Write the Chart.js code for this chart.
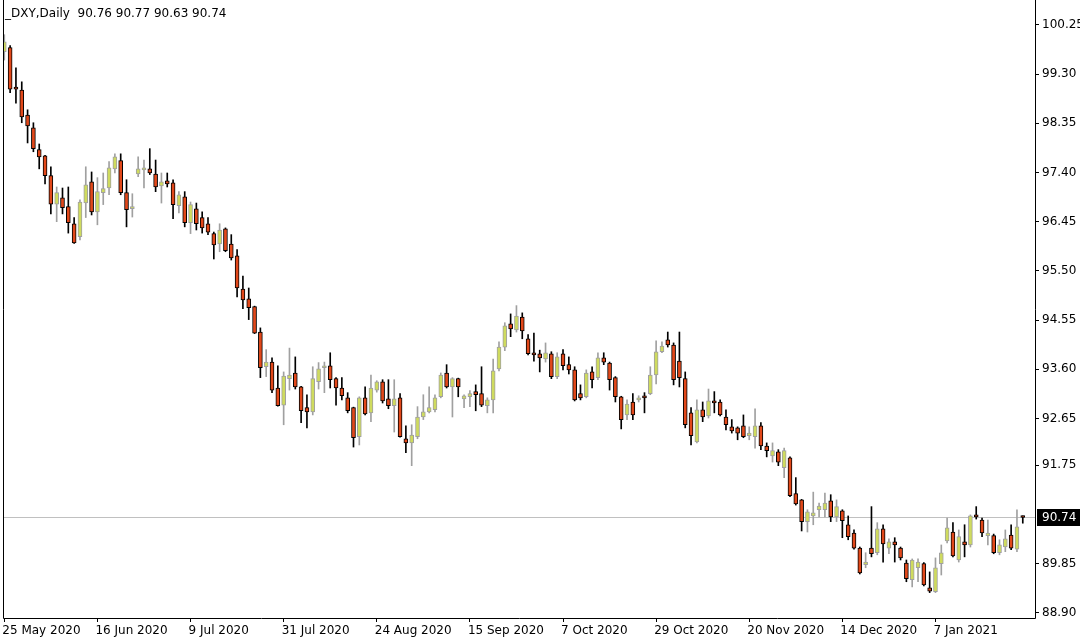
<!DOCTYPE html>
<html>
<head>
<meta charset="utf-8">
<script src="https://cdn.jsdelivr.net/npm/chart.js@4.4.0/dist/chart.umd.min.js"></script>
<style>
  html, body { margin: 0; padding: 0; background: #fff; }
  canvas { display: block; }
</style>
</head>
<body>
<canvas id="myChart" width="1080" height="642"></canvas>
<script>
const headerText = '_DXY,Daily  90.76 90.77 90.63 90.74';

const opens = [
  99.73, 99.81, 99.04, 98.99, 98.51, 98.26, 97.84, 97.72, 97.34, 96.79,
  96.91, 96.74, 96.41, 96.16, 96.81, 97.22, 96.64, 97.01, 97.10, 97.47,
  97.63, 97.01, 96.70, 97.37, 97.45, 97.47, 97.37, 97.14, 97.24, 97.20,
  96.76, 96.93, 96.43, 96.70, 96.53, 96.41, 96.22, 96.02, 96.31, 96.02,
  95.79, 95.15, 94.96, 94.81, 94.32, 93.65, 93.74, 93.24, 92.91, 93.42,
  93.53, 93.26, 92.86, 92.78, 93.36, 93.63, 93.67, 93.42, 93.24, 93.05,
  92.86, 92.30, 93.05, 92.76, 93.20, 93.36, 93.03, 92.90, 93.05, 92.26,
  92.18, 92.30, 92.68, 92.78, 92.82, 93.07, 93.53, 93.26, 93.42, 93.03,
  93.07, 93.17, 93.13, 92.90, 93.01, 93.61, 94.03, 94.48, 94.36, 94.61,
  94.19, 93.92, 93.90, 93.80, 93.90, 93.46, 93.90, 93.69, 93.59, 93.13,
  93.07, 93.55, 93.44, 93.82, 93.72, 93.44, 93.07, 92.72, 92.97, 93.01,
  93.07, 93.13, 93.49, 93.94, 94.17, 94.07, 93.76, 93.42, 92.76, 92.20,
  92.82, 92.70, 92.99, 92.97, 92.68, 92.49, 92.47, 92.51, 92.32, 92.30,
  92.51, 92.12, 91.93, 92.01, 91.70, 91.89, 91.20, 91.08, 90.66, 90.77,
  90.89, 90.89, 91.06, 90.75, 90.87, 90.60, 90.44, 90.15, 89.83, 90.15,
  90.06, 90.52, 90.15, 90.27, 90.15, 89.86, 89.54, 89.77, 89.85, 89.38,
  89.31, 89.85, 90.29, 90.46, 89.92, 90.27, 90.21, 90.79, 90.69, 90.39,
  90.39, 90.06, 90.17, 90.40, 90.13, 90.76
];
const highs = [
  100.06, 99.85, 99.42, 99.15, 98.61, 98.36, 97.95, 97.73, 97.51, 97.12,
  97.10, 97.12, 96.53, 96.87, 97.51, 97.41, 97.30, 97.39, 97.61, 97.76,
  97.76, 97.26, 96.99, 97.70, 97.64, 97.86, 97.64, 97.39, 97.39, 97.26,
  97.03, 97.03, 96.83, 96.81, 96.64, 96.53, 96.25, 96.41, 96.33, 96.20,
  95.91, 95.40, 95.17, 94.82, 94.40, 93.98, 93.82, 93.67, 93.55, 94.01,
  93.84, 93.27, 93.11, 93.65, 93.73, 93.74, 93.92, 93.44, 93.44, 93.15,
  92.87, 93.07, 93.26, 93.49, 93.38, 93.40, 93.40, 93.40, 93.13, 92.51,
  92.53, 92.88, 93.11, 93.26, 93.11, 93.53, 93.69, 93.44, 93.43, 93.11,
  93.19, 93.30, 93.65, 93.05, 93.80, 94.13, 94.50, 94.67, 94.83, 94.69,
  94.27, 94.30, 93.97, 94.11, 93.94, 93.92, 93.98, 93.84, 93.65, 93.30,
  93.59, 93.65, 93.92, 93.92, 93.74, 93.46, 93.08, 93.01, 93.13, 93.09,
  93.15, 93.65, 94.15, 94.13, 94.32, 94.11, 94.32, 93.55, 92.86, 93.01,
  92.97, 93.22, 93.17, 93.01, 92.82, 92.63, 92.49, 92.72, 92.49, 92.84,
  92.57, 92.18, 92.18, 92.05, 92.08, 91.91, 91.51, 91.09, 90.89, 91.23,
  91.02, 91.21, 91.18, 91.08, 90.89, 90.77, 90.50, 90.17, 90.06, 90.95,
  90.64, 90.60, 90.33, 90.35, 90.17, 89.92, 89.94, 89.94, 89.87, 89.69,
  89.96, 90.21, 90.73, 90.64, 90.50, 90.60, 90.79, 90.95, 90.73, 90.69,
  90.42, 90.31, 90.50, 90.60, 90.89, 90.77
];
const lows = [
  99.57, 98.94, 98.74, 98.36, 97.97, 97.80, 97.47, 97.18, 96.60, 96.45,
  96.60, 96.23, 96.03, 96.10, 96.53, 96.58, 96.39, 96.78, 96.97, 97.39,
  96.97, 96.35, 96.54, 97.32, 97.10, 97.36, 97.03, 96.81, 97.12, 96.51,
  96.62, 96.35, 96.22, 96.29, 96.23, 96.20, 95.73, 95.87, 95.87, 95.71,
  95.00, 94.77, 94.56, 94.29, 93.44, 93.46, 93.15, 92.89, 92.53, 93.20,
  93.22, 92.57, 92.47, 92.72, 93.22, 93.15, 93.24, 92.91, 93.01, 92.76,
  92.10, 92.14, 92.72, 92.59, 93.16, 92.95, 92.84, 92.39, 92.29, 91.99,
  91.74, 92.26, 92.63, 92.76, 92.78, 93.05, 93.24, 92.68, 93.07, 92.86,
  92.88, 92.80, 92.88, 92.76, 92.76, 93.57, 93.96, 94.23, 94.32, 94.19,
  93.88, 93.76, 93.55, 93.74, 93.42, 93.42, 93.59, 93.51, 92.99, 93.01,
  93.05, 93.24, 93.40, 93.69, 93.20, 92.97, 92.45, 92.63, 92.63, 92.97,
  92.76, 93.11, 93.32, 93.92, 94.03, 93.30, 93.26, 92.47, 92.14, 92.18,
  92.59, 92.66, 92.76, 92.70, 92.43, 92.37, 92.24, 92.28, 92.24, 92.08,
  92.05, 91.91, 91.81, 91.74, 91.51, 91.14, 90.98, 90.48, 90.46, 90.60,
  90.75, 90.75, 90.66, 90.66, 90.35, 90.31, 90.13, 89.65, 89.77, 89.98,
  90.02, 89.88, 90.04, 89.88, 89.92, 89.50, 89.40, 89.50, 89.42, 89.29,
  89.29, 89.63, 90.25, 89.98, 89.88, 89.98, 90.17, 90.71, 90.37, 90.21,
  90.04, 90.02, 90.08, 90.12, 90.08, 90.63
];
const closes = [
  99.92, 99.01, 99.01, 98.47, 98.30, 97.86, 97.70, 97.34, 96.79, 97.01,
  96.72, 96.43, 96.04, 96.83, 97.16, 96.64, 97.03, 97.09, 97.49, 97.70,
  97.01, 96.68, 96.74, 97.47, 97.47, 97.39, 97.12, 97.22, 97.18, 96.78,
  96.97, 96.43, 96.78, 96.41, 96.33, 96.25, 96.00, 96.29, 95.89, 95.75,
  95.17, 94.94, 94.79, 94.30, 93.63, 93.74, 93.20, 92.90, 93.47, 93.49,
  93.26, 92.80, 92.78, 93.42, 93.61, 93.65, 93.40, 93.24, 93.09, 92.80,
  92.28, 93.05, 92.74, 93.24, 93.36, 92.99, 92.90, 93.03, 92.30, 92.18,
  92.33, 92.68, 92.78, 92.86, 93.05, 93.49, 93.26, 93.42, 93.26, 93.09,
  93.13, 93.11, 92.91, 93.01, 93.57, 94.03, 94.44, 94.38, 94.63, 94.34,
  93.90, 93.88, 93.82, 93.92, 93.46, 93.84, 93.67, 93.59, 93.01, 93.05,
  93.53, 93.40, 93.82, 93.74, 93.40, 93.07, 92.63, 92.93, 92.72, 93.05,
  93.05, 93.49, 93.94, 94.05, 94.07, 93.40, 93.44, 92.53, 92.32, 92.82,
  92.68, 92.99, 92.95, 92.72, 92.53, 92.41, 92.37, 92.30, 92.37, 92.51,
  92.12, 92.03, 92.03, 91.81, 92.03, 91.16, 91.00, 90.66, 90.85, 90.83,
  90.96, 91.02, 90.75, 90.95, 90.68, 90.37, 90.15, 89.67, 89.88, 90.04,
  90.52, 90.23, 90.27, 90.21, 89.96, 89.56, 89.92, 89.88, 89.44, 89.32,
  89.77, 90.06, 90.54, 90.00, 90.37, 90.21, 90.77, 90.75, 90.44, 90.44,
  90.06, 90.21, 90.33, 90.15, 90.56, 90.74
];

const dateLabels = ['25 May 2020', '16 Jun 2020', '9 Jul 2020', '31 Jul 2020', '24 Aug 2020', '15 Sep 2020',
  '7 Oct 2020', '29 Oct 2020', '20 Nov 2020', '14 Dec 2020', '7 Jan 2021'];
const dateTickIndex = [0, 16, 32, 48, 64, 80, 96, 112, 128, 144, 160];
const priceTicks = [100.25, 99.30, 98.35, 97.40, 96.45, 95.50, 94.55, 93.60, 92.65, 91.75, 89.85, 88.90];
const lastPrice = 90.74;

const bullFill = '#cfdb5e';
const bullLine = '#a0a0a0';
const bearFill = '#e2481a';
const bearLine = '#000000';
const axisFont = { family: 'DejaVu Sans', size: 12 };

const isBull = i => closes[i] >= opens[i];
const bodies = opens.map((o, i) => ({ x: i, y: [o, closes[i]] }));
const wicks = lows.map((l, i) => ({ x: i, y: [l, highs[i]] }));

// no extra padding for edge labels, MT4 lets them run off
const noEdgePadding = s => {
  s.paddingTop = 0;
  s.paddingBottom = 0;
  s.paddingLeft = 0;
  s.paddingRight = 0;
};

const mtPlugin = {
  id: 'mtFrame',
  beforeDatasetsDraw(chart) {
    const { ctx, chartArea, scales } = chart;
    const y = Math.round(scales.y.getPixelForValue(lastPrice)) + 0.5;
    ctx.save();
    ctx.strokeStyle = '#c0c0c0';
    ctx.lineWidth = 1;
    ctx.beginPath();
    ctx.moveTo(chartArea.left, y);
    ctx.lineTo(chartArea.right, y);
    ctx.stroke();
    ctx.restore();
  },
  afterDraw(chart) {
    const { ctx, chartArea, scales } = chart;
    ctx.save();
    ctx.strokeStyle = '#000';
    ctx.lineWidth = 1;
    ctx.beginPath();
    ctx.moveTo(chartArea.left + 0.5, 0);
    ctx.lineTo(chartArea.left + 0.5, chartArea.bottom + 0.5);
    ctx.lineTo(chartArea.right + 0.5, chartArea.bottom + 0.5);
    ctx.lineTo(chartArea.right + 0.5, 0);
    ctx.stroke();

    ctx.font = '12px "DejaVu Sans"';
    ctx.fillStyle = '#000';
    ctx.textBaseline = 'middle';
    ctx.textAlign = 'left';
    ctx.fillText(headerText, chartArea.left + 2, 14);

    const y = Math.round(scales.y.getPixelForValue(lastPrice));
    ctx.fillStyle = '#000';
    ctx.fillRect(chartArea.right + 2, y - 8, 1080 - chartArea.right - 2, 17);
    ctx.fillStyle = '#fff';
    ctx.fillText(lastPrice.toFixed(2), chartArea.right + 7, y + 1);
    ctx.restore();
  }
};

new Chart(document.getElementById('myChart').getContext('2d'), {
  type: 'bar',
  data: {
    datasets: [
      {
        label: 'body',
        data: bodies,
        grouped: false,
        order: 0,
        barThickness: 4,
        minBarLength: 2,
        borderWidth: 1,
        borderSkipped: false,
        backgroundColor: c => isBull(c.dataIndex) ? bullFill : bearFill,
        borderColor: c => isBull(c.dataIndex) ? bullLine : bearLine
      },
      {
        label: 'wick',
        data: wicks,
        grouped: false,
        order: 1,
        barThickness: 1,
        borderWidth: 0,
        backgroundColor: c => isBull(c.dataIndex) ? bullLine : bearLine
      }
    ]
  },
  options: {
    responsive: false,
    animation: false,
    devicePixelRatio: 1,
    layout: { padding: { left: 3, top: 1, right: 0, bottom: 0 } },
    plugins: {
      legend: { display: false },
      tooltip: { enabled: false }
    },
    scales: {
      x: {
        type: 'linear',
        offset: false,
        min: -0.223,
        max: 177.1,
        afterBuildTicks: s => { s.ticks = dateTickIndex.map(v => ({ value: v })); },
        afterFit: s => { s.height = 24; noEdgePadding(s); },
        ticks: {
          autoSkip: false,
          maxRotation: 0,
          align: 'start',
          labelOffset: -2,
          padding: 2,
          color: '#000',
          font: axisFont,
          callback: (v, i) => dateLabels[i]
        },
        grid: { offset: false, drawOnChartArea: false, tickLength: 4, color: '#000' },
        border: { display: false }
      },
      y: {
        position: 'right',
        min: 88.80,
        max: 100.71,
        afterBuildTicks: s => { s.ticks = priceTicks.map(v => ({ value: v })); },
        afterFit: s => { s.width = 45; noEdgePadding(s); },
        ticks: {
          autoSkip: false,
          padding: 3,
          color: '#000',
          font: axisFont,
          callback: v => v.toFixed(2)
        },
        grid: { drawOnChartArea: false, tickLength: 4, color: '#000' },
        border: { display: false }
      }
    }
  },
  plugins: [mtPlugin]
});
</script>
</body>
</html>
